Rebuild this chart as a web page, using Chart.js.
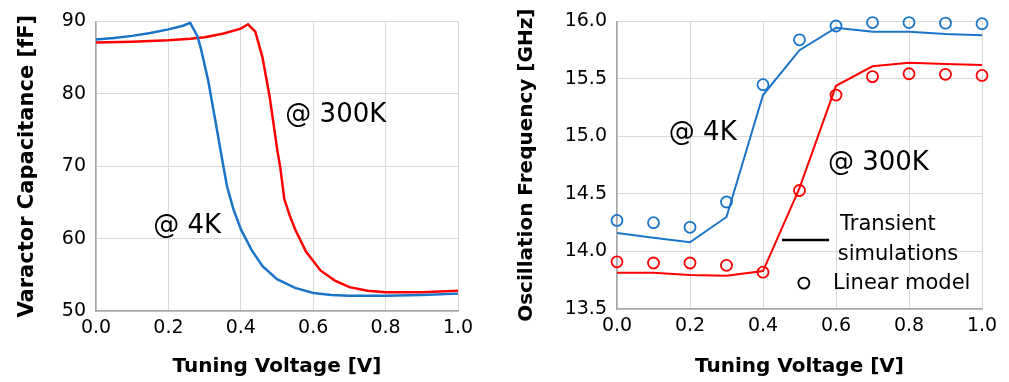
<!DOCTYPE html>
<html lang="en">
<head>
  <meta charset="UTF-8">
  <title>Varactor capacitance and oscillation frequency</title>
  <script src="https://cdn.jsdelivr.net/npm/chart.js"></script>
  <style>
    html, body { margin: 0; padding: 0; background: #fff; }
    .panel { position: absolute; top: 0; height: 382px; }
    #left-panel { left: 0; width: 500px; }
    #right-panel { left: 500px; width: 509px; }
  </style>
</head>
<body>
  <div id="left-panel" class="panel"><canvas id="cap-chart"></canvas></div>
  <div id="right-panel" class="panel"><canvas id="freq-chart"></canvas></div>

  <script>
    // Left: varactor capacitance vs tuning voltage
    const v4K = [0, 0.05, 0.1, 0.15, 0.2, 0.24, 0.26, 0.28, 0.29, 0.31, 0.33, 0.35, 0.362, 0.38, 0.4, 0.43, 0.46, 0.5, 0.55, 0.6, 0.65, 0.7, 0.8, 0.9, 1.0];
    const cap4K = [87.5, 87.7, 88.0, 88.4, 88.9, 89.4, 89.8, 88.0, 86.2, 81.8, 76.2, 70.5, 67.2, 64.0, 61.3, 58.4, 56.2, 54.4, 53.2, 52.5, 52.2, 52.1, 52.1, 52.2, 52.4];
    const v300K = [0, 0.1, 0.2, 0.26, 0.3, 0.35, 0.4, 0.42, 0.44, 0.46, 0.48, 0.5, 0.51, 0.52, 0.535, 0.55, 0.58, 0.62, 0.66, 0.7, 0.75, 0.8, 0.9, 1.0];
    const cap300K = [87.1, 87.2, 87.4, 87.6, 87.8, 88.3, 89.0, 89.6, 88.6, 85.0, 79.5, 72.5, 69.5, 65.5, 63.2, 61.3, 58.2, 55.6, 54.2, 53.3, 52.8, 52.6, 52.6, 52.8];

    // Right: oscillation frequency, transient sim (lines) and linear model (circles)
    const vSweep = [0, 0.1, 0.2, 0.3, 0.4, 0.5, 0.6, 0.7, 0.8, 0.9, 1.0];
    const f4KSim = [14.16, 14.12, 14.08, 14.30, 15.36, 15.75, 15.945, 15.91, 15.91, 15.89, 15.88];
    const f4KModel = [14.27, 14.25, 14.21, 14.43, 15.45, 15.84, 15.96, 15.99, 15.99, 15.985, 15.98];
    const f300KSim = [13.815, 13.815, 13.795, 13.79, 13.83, 14.55, 15.44, 15.61, 15.64, 15.63, 15.62];
    const f300KModel = [13.91, 13.90, 13.90, 13.88, 13.82, 14.53, 15.36, 15.52, 15.545, 15.54, 15.53];

    const BLUE = '#1a75c8';
    const RED = '#ff0000';
    const FONT = "'DejaVu Sans', sans-serif";
    const GRID = '#d9d9d9';

    const pts = (xs, ys) => xs.map((x, i) => ({ x, y: ys[i] }));

    // text notes drawn at data coordinates
    const notesPlugin = {
      id: 'notes',
      afterDatasetsDraw(chart, args, opts) {
        const { ctx, scales: { x, y } } = chart;
        ctx.save();
        ctx.fillStyle = '#000';
        ctx.strokeStyle = '#000';
        ctx.textBaseline = 'middle';
        ctx.textAlign = 'left';
        (opts.texts || []).forEach(t => {
          ctx.font = t.size + 'px ' + FONT;
          ctx.fillText(t.text, x.getPixelForValue(t.x), y.getPixelForValue(t.y));
        });
        (opts.lines || []).forEach(l => {
          ctx.lineWidth = 2.5;
          ctx.beginPath();
          ctx.moveTo(x.getPixelForValue(l.x1), y.getPixelForValue(l.y));
          ctx.lineTo(x.getPixelForValue(l.x2), y.getPixelForValue(l.y));
          ctx.stroke();
        });
        (opts.circles || []).forEach(c => {
          ctx.lineWidth = 1.8;
          ctx.beginPath();
          ctx.arc(x.getPixelForValue(c.x), y.getPixelForValue(c.y), 5.5, 0, Math.PI * 2);
          ctx.stroke();
        });
        ctx.restore();
      }
    };

    function axes(yMin, yMax, yStep, yTitle, yTitleSize, yWidth, xHeight, yFmt) {
      return {
        x: {
          type: 'linear', min: 0, max: 1,
          ticks: { stepSize: 0.2, color: '#000', font: { family: FONT, size: 19 }, padding: 6,
                   callback: v => v.toFixed(1) },
          grid: { color: GRID, drawTicks: false },
          border: { color: '#a6a6a6', width: 1.5 },
          title: { display: true, text: 'Tuning Voltage [V]', color: '#000',
                   font: { family: FONT, size: 20, weight: 'bold' }, padding: { top: 0, bottom: 3 } },
          afterFit: s => { s.height = xHeight; }
        },
        y: {
          type: 'linear', min: yMin, max: yMax,
          ticks: { stepSize: yStep, color: '#000', font: { family: FONT, size: 19 }, padding: 10,
                   callback: yFmt },
          grid: { color: GRID, drawTicks: false },
          border: { color: '#a6a6a6', width: 1.5 },
          title: { display: true, text: yTitle, color: '#000',
                   font: { family: FONT, size: yTitleSize, weight: 'bold' }, padding: { top: 15, bottom: 0 } },
          afterFit: s => { s.width = yWidth; }
        }
      };
    }

    new Chart(document.getElementById('cap-chart'), {
      type: 'scatter',
      data: {
        datasets: [
          { label: '@ 4K', data: pts(v4K, cap4K), showLine: true, borderColor: BLUE, borderWidth: 2.5, pointRadius: 0, clip: false },
          { label: '@ 300K', data: pts(v300K, cap300K), showLine: true, borderColor: RED, borderWidth: 2.5, pointRadius: 0, clip: false }
        ]
      },
      options: {
        responsive: true, maintainAspectRatio: false, animation: false,
        layout: { padding: { top: 21, right: 42, left: 0, bottom: 0 } },
        scales: axes(50, 90, 10, 'Varactor Capacitance [fF]', 21, 96, 71, v => v.toFixed(0)),
        plugins: {
          legend: { display: false }, tooltip: { enabled: false },
          notes: {
            texts: [
              { text: '@ 300K', x: 0.523, y: 77.0, size: 26 },
              { text: '@ 4K', x: 0.158, y: 61.7, size: 26 }
            ]
          }
        }
      },
      plugins: [notesPlugin]
    });

    new Chart(document.getElementById('freq-chart'), {
      type: 'scatter',
      data: {
        datasets: [
          { label: '4K sim', data: pts(vSweep, f4KSim), showLine: true, borderColor: BLUE, borderWidth: 2, pointRadius: 0, clip: false },
          { label: '300K sim', data: pts(vSweep, f300KSim), showLine: true, borderColor: RED, borderWidth: 2, pointRadius: 0, clip: false },
          { label: '4K model', data: pts(vSweep, f4KModel), showLine: false, borderColor: BLUE, backgroundColor: 'rgba(0,0,0,0)', pointBorderWidth: 1.8, pointRadius: 5.5, clip: false },
          { label: '300K model', data: pts(vSweep, f300KModel), showLine: false, borderColor: RED, backgroundColor: 'rgba(0,0,0,0)', pointBorderWidth: 1.8, pointRadius: 5.5, clip: false }
        ]
      },
      options: {
        responsive: true, maintainAspectRatio: false, animation: false,
        layout: { padding: { top: 21, right: 27, left: 0, bottom: 0 } },
        scales: axes(13.5, 16.0, 0.5, 'Oscillation Frequency [GHz]', 20, 117, 73, v => v.toFixed(1)),
        plugins: {
          legend: { display: false }, tooltip: { enabled: false },
          notes: {
            texts: [
              { text: '@ 4K', x: 0.142, y: 15.03, size: 26 },
              { text: '@ 300K', x: 0.578, y: 14.77, size: 26 },
              { text: 'Transient', x: 0.611, y: 14.23, size: 21 },
              { text: 'simulations', x: 0.605, y: 13.97, size: 21 },
              { text: 'Linear model', x: 0.592, y: 13.725, size: 21 }
            ],
            lines: [{ x1: 0.452, x2: 0.581, y: 14.10 }],
            circles: [{ x: 0.512, y: 13.725 }]
          }
        }
      },
      plugins: [notesPlugin]
    });
  </script>
</body>
</html>
